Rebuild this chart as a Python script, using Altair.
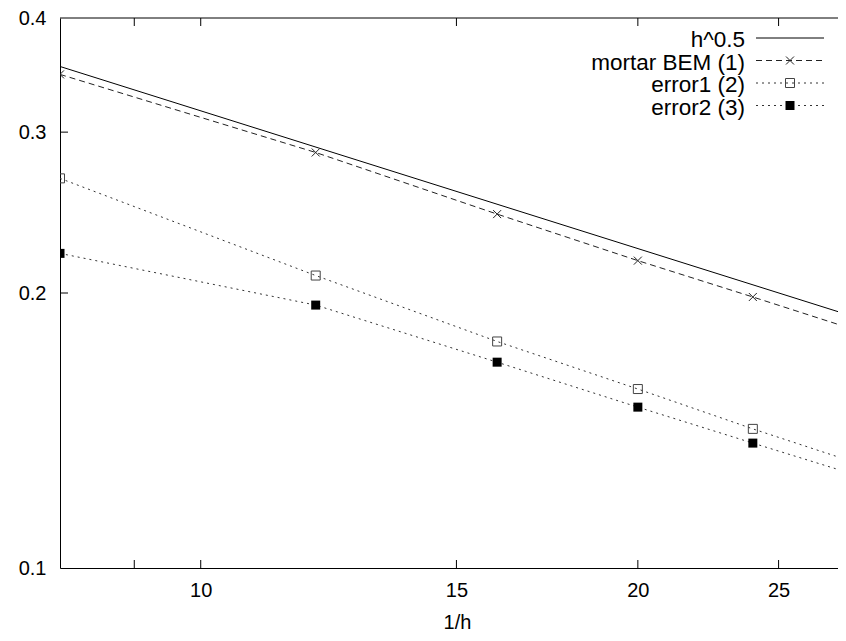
import altair as alt
import pandas as pd

# ---- data ----
x_vals = [8, 12, 16, 20, 24, 28]
mortar = [0.347, 0.285, 0.244, 0.217, 0.198, 0.183]
error1 = [0.267, 0.209, 0.177, 0.157, 0.142, 0.131]
error2 = [0.221, 0.194, 0.168, 0.150, 0.137, 0.127]
h_x = [8, 28]
h_y = [0.354, 0.189]

x_tick_values = [9, 10, 15, 20, 25]
x_label_values = [10, 15, 20, 25]
y_tick_values = [0.2, 0.3]
y_label_values = [0.1, 0.2, 0.3, 0.4]
legend_labels = ["h^0.5", "mortar BEM (1)", "error1 (2)", "error2 (3)"]

# ---- layout ----
W, H = 778, 550
FONT = "Liberation Sans"
TICK = 8

xscale = alt.Scale(type="log", domain=[8, 27.47], nice=False)
yscale = alt.Scale(type="log", domain=[0.1, 0.4], nice=False)

x_axis = alt.Axis(values=x_label_values, title="1/h", ticks=False, grid=False,
                  labelPadding=12, labelFontSize=20, labelFont=FONT, labelColor="black",
                  titleFont=FONT, titleFontSize=20, titleFontWeight="normal", titleColor="black",
                  titleY=60, titleX=397, titleBaseline="alphabetic", labelFlush=False, format="d",
                  domainColor="black", domainWidth=1)
y_axis = alt.Axis(values=y_label_values, title=None, ticks=False, grid=False,
                  labelPadding=14, labelFontSize=20, labelFont=FONT, labelColor="black",
                  labelOverlap=False, labelFlush=False, format=".1f",
                  domainColor="black", domainWidth=1)


def X():
    return alt.X("x:Q", scale=xscale, axis=x_axis)


def Y():
    return alt.Y("y:Q", scale=yscale, axis=y_axis)


df_h = pd.DataFrame({"x": h_x, "y": h_y})
df_m = pd.DataFrame({"x": x_vals, "y": mortar})
df_e1 = pd.DataFrame({"x": x_vals, "y": error1})
df_e2 = pd.DataFrame({"x": x_vals, "y": error2})

X_PATH = "M-1,-1L1,1M-1,1L1,-1"

h_line = alt.Chart(df_h).mark_line(color="black", strokeWidth=1, clip=True).encode(
    x=X(), y=Y())
m_line = alt.Chart(df_m).mark_line(color="#222", strokeWidth=1, strokeDash=[6, 4], clip=True).encode(
    x=X(), y=Y())
m_pts = alt.Chart(df_m).mark_point(shape=X_PATH, size=64, filled=False, color="#222",
                                   strokeWidth=1, opacity=1, clip=True).encode(x=X(), y=Y())
e1_line = alt.Chart(df_e1).mark_line(color="#333", strokeWidth=1, strokeDash=[2, 4], clip=True).encode(
    x=X(), y=Y())
e1_pts = alt.Chart(df_e1).mark_point(shape="square", size=81, filled=False, color="#444",
                                     strokeWidth=1, opacity=1, clip=True).encode(x=X(), y=Y())
e2_line = alt.Chart(df_e2).mark_line(color="#333", strokeWidth=1, strokeDash=[2, 4], clip=True).encode(
    x=X(), y=Y())
e2_pts = alt.Chart(df_e2).mark_point(shape="square", size=81, filled=True, color="black",
                                     opacity=1, clip=True).encode(x=X(), y=Y())

# inward ticks (gnuplot style)
df_xt = pd.DataFrame({"x": x_tick_values})
df_yt = pd.DataFrame({"y": y_tick_values})
bottom_ticks = alt.Chart(df_xt).mark_rule(color="black", strokeWidth=1).encode(
    x=X(), y=alt.value(H), y2=alt.value(H - TICK))
top_ticks = alt.Chart(df_xt).mark_rule(color="black", strokeWidth=1).encode(
    x=X(), y=alt.value(0), y2=alt.value(TICK))
left_ticks = alt.Chart(df_yt).mark_rule(color="black", strokeWidth=1).encode(
    y=Y(), x=alt.value(0), x2=alt.value(TICK))
top_border = alt.Chart(pd.DataFrame({"k": [0]})).mark_rule(color="black", strokeWidth=1).encode(
    x=alt.value(0), x2=alt.value(W), y=alt.value(0))

# gnuplot-style key (text right-aligned, sample to the right)
styles = [
    dict(color="black", strokeDash=[1, 0]),
    dict(color="#222", strokeDash=[6, 4]),
    dict(color="#333", strokeDash=[2, 4]),
    dict(color="#333", strokeDash=[2, 4]),
]
key_layers = []
for i, label in enumerate(legend_labels):
    ry = 20 + 22.5 * i
    d = pd.DataFrame({"label": [label]})
    key_layers.append(alt.Chart(d).mark_text(align="right", baseline="middle", font=FONT,
                                             fontSize=22.5, color="black").encode(
        x=alt.value(685), y=alt.value(ry + 2), text="label:N"))
    key_layers.append(alt.Chart(d).mark_rule(strokeWidth=1, **styles[i]).encode(
        x=alt.value(696), x2=alt.value(764), y=alt.value(ry)))
    if i == 1:
        key_layers.append(alt.Chart(d).mark_point(shape=X_PATH, size=64, filled=False, color="#222",
                                                  strokeWidth=1, opacity=1).encode(
            x=alt.value(730), y=alt.value(ry)))
    elif i == 2:
        key_layers.append(alt.Chart(d).mark_point(shape="square", size=81, filled=False, color="#444",
                                                  strokeWidth=1, opacity=1).encode(
            x=alt.value(730), y=alt.value(ry)))
    elif i == 3:
        key_layers.append(alt.Chart(d).mark_point(shape="square", size=81, filled=True, color="black",
                                                  opacity=1).encode(
            x=alt.value(730), y=alt.value(ry)))

chart = alt.layer(
    h_line, m_line, e1_line, e2_line, m_pts, e1_pts, e2_pts,
    bottom_ticks, top_ticks, left_ticks, top_border, *key_layers
).properties(
    width=W, height=H,
    autosize=alt.AutoSizeParams(type="none"),
    padding={"left": 52, "top": 10, "right": 0, "bottom": 65},
    background="white",
).configure_view(stroke=None)

chart.save("out.html", embed_options={"renderer": "svg", "actions": False})
